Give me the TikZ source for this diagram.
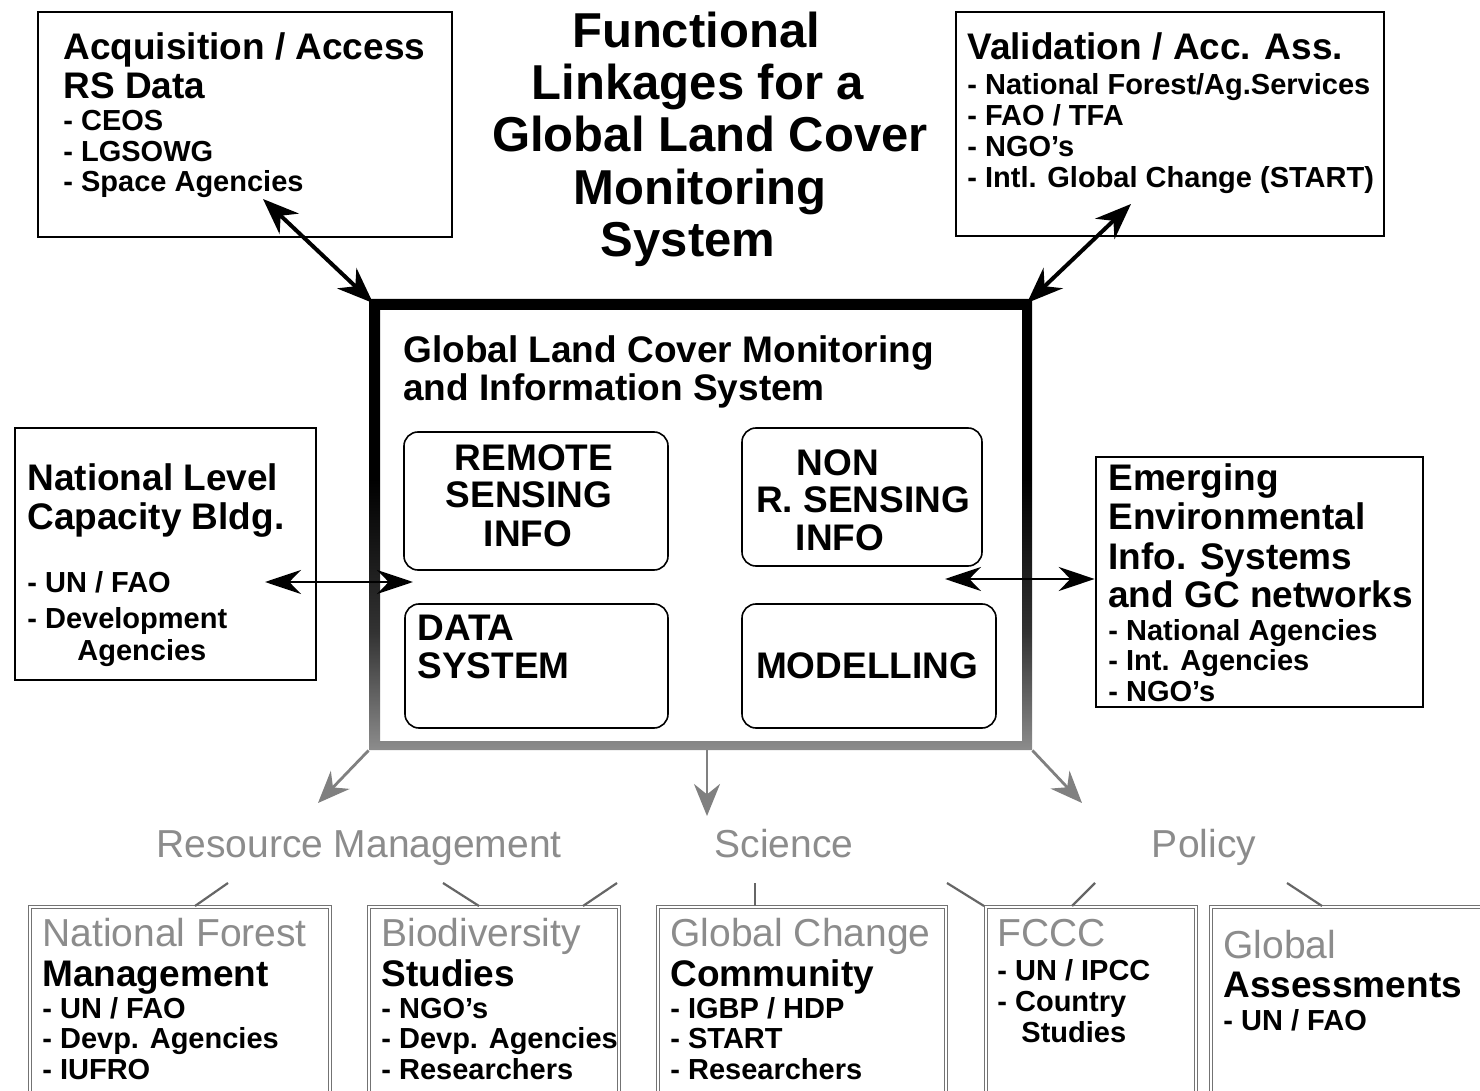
\documentclass[tikz,border=0pt]{standalone}
\usepackage{fontspec}
\setmainfont{Liberation Sans}
\usetikzlibrary{arrows.meta,fit,calc}

% thick frame: black at the top, fading to grey towards the bottom
\pgfdeclareverticalshading{ringshade}{100bp}{%
  color(0bp)=(black!45); color(25bp)=(black!45); color(38bp)=(black!80);
  color(55bp)=(black); color(100bp)=(black)}

% one node per text line, stacked at a fixed baseline distance
\newcommand\putlines[6]{%
  \foreach \lineTxt [count=\k] in {#6}
    \node[#1, anchor=base west] (#2\k) at (#3, {#4+(\k-1)*(#5)}) {\lineTxt};}

\begin{document}
\begin{tikzpicture}[x=0.5pt,y=-0.5pt,
  outerbox/.style={draw=black, line width=1.3pt, inner sep=0pt},
  inbox/.style={draw=black, line width=0.8pt, rounded corners=7pt, inner sep=0pt},
  lowbox/.style={draw=black!55, line width=0.5pt, double=white, double distance=1.4pt, inner sep=0pt},
  hdtext/.style={font=\fontsize{18.5}{18.5}\selectfont\bfseries, inner sep=0pt},
  itemtext/.style={font=\fontsize{14.5}{14.5}\selectfont\bfseries, inner sep=0pt},
  ttltext/.style={font=\fontsize{24.5}{24.5}\selectfont\bfseries, inner sep=0pt},
  cattext/.style={font=\fontsize{19.5}{19.5}\selectfont, text=black!45, inner sep=0pt},
  link/.style={line width=2pt, {Stealth[length=18pt,width=14pt]}-{Stealth[length=18pt,width=14pt]}},
  sidelink/.style={line width=1.4pt, {Stealth[length=18pt,width=12pt]}-{Stealth[length=18pt,width=12pt]}},
  garrow/.style={draw=black!50, line width=1.4pt, -{Stealth[length=16pt,width=13pt]}},
  tie/.style={draw=black!60, line width=1.1pt}
]
\useasboundingbox (0,0) rectangle (1480,1091);
\clip (0,0) rectangle (1480,1091);
\fill[white] (0,0) rectangle (1480,1091);

% ---------- title ----------
\foreach \t/\cx/\by [count=\k] in {Functional/696/48, Linkages for a/698/100,
    Global Land Cover/710/152, Monitoring/700/205, System/688/257}
  \node[ttltext, anchor=base] (ttl\k) at (\cx,\by) {\t};

% ---------- upper boxes ----------
\node[outerbox, fit={(38,12) (452,237)}] (acq) {};
\putlines{hdtext}{acqh}{63}{60}{39}{Acquisition / Access, RS Data}
\putlines{itemtext}{acqi}{63}{131}{30.5}{- CEOS, - LGSOWG, - Space Agencies}

\node[outerbox, fit={(956,12) (1384,236)}] (val) {};
\putlines{hdtext}{valh}{967}{60}{39}{Validation / Acc. Ass.}
\putlines{itemtext}{vali}{967}{95}{31}{- National Forest/Ag.Services, - FAO / TFA, - NGO's, - Intl. Global Change (START)}

% ---------- side boxes ----------
\node[outerbox, fit={(15,428) (316,680)}] (nat) {};
\putlines{hdtext}{nath}{27}{491}{38.5}{National Level, Capacity Bldg.}
\putlines{itemtext}{nati}{27}{593}{36}{- UN / FAO, - Development}
\node[itemtext, anchor=base west] (nati3) at (77,661) {Agencies};

\node[outerbox, fit={(1096,457) (1423,707)}] (emg) {};
\putlines{hdtext}{emgh}{1108}{491}{39}{Emerging, Environmental, Info. Systems, and GC networks}
\putlines{itemtext}{emgi}{1108}{640}{30.5}{- National Agencies, - Int. Agencies, - NGO's}

% ---------- central system ----------
\shade[shading=ringshade, even odd rule]
  (369,299) rectangle (1032,750) (380,310) rectangle (1022,741);
\node[fit={(369,299) (1032,750)}, inner sep=0pt] (core) {};
\putlines{hdtext}{coreh}{403}{363}{38}{Global Land Cover Monitoring, and Information System}

\node[inbox, fit={(404,432) (668,570)}] (rs) {};
\foreach \t/\cx/\by [count=\k] in {REMOTE/534/471, SENSING/529/508, INFO/528/546}
  \node[hdtext, anchor=base] (rst\k) at (\cx,\by) {\t};

\node[inbox, fit={(742,428) (982,566)}] (nrs) {};
\foreach \t/\cx/\by [count=\k] in {NON/838/476, R. SENSING/863/513, INFO/840/551}
  \node[hdtext, anchor=base] (nrst\k) at (\cx,\by) {\t};

\node[inbox, fit={(405,604) (668,728)}] (ds) {};
\putlines{hdtext}{dst}{417}{640}{38}{DATA, SYSTEM}

\node[inbox, fit={(742,604) (996,728)}] (mod) {};
\node[hdtext, anchor=base] (modt) at (867,678) {MODELLING};

% ---------- links to the central system ----------
\coordinate (acqtip) at (263,199);
\coordinate (valtip) at (1131,204);
\coordinate (coreNW) at (373,303);
\coordinate (coreNE) at (1027,303);
\draw[link] (acqtip) -- (coreNW);
\draw[link] (valtip) -- (coreNE);

\coordinate (natend) at (265,582);
\coordinate (coreW) at (413,582);
\draw[sidelink] (natend) -- (coreW);
\coordinate (coreE) at (945,579);
\draw[sidelink] (coreE) -- (emg.west |- coreE);

% ---------- outputs ----------
\coordinate (rmtip) at (318,803);
\coordinate (scitip) at (707,816);
\coordinate (poltip) at (1082,803);
\draw[garrow] (core.south west) -- (rmtip);
\draw[garrow] (scitip |- core.south) -- (scitip);
\draw[garrow] (core.south east) -- (poltip);

\node[cattext, anchor=base] (rm) at (359,857) {Resource Management};
\node[cattext, anchor=base] (sci) at (784,857) {Science};
\node[cattext, anchor=base] (pol) at (1204,857) {Policy};

% ---------- user communities ----------
\node[lowbox, fit={(30,907) (330,1110)}] (nf) {};
\node[cattext, anchor=base west] (nft) at (42,946) {National Forest};
\node[hdtext, anchor=base west] (nfh) at (42,986) {Management};
\putlines{itemtext}{nfi}{42}{1018}{30.5}{- UN / FAO, - Devp. Agencies, - IUFRO}

\node[lowbox, fit={(369,907) (619,1110)}] (bio) {};
\node[cattext, anchor=base west] (biot) at (381,946) {Biodiversity};
\node[hdtext, anchor=base west] (bioh) at (381,986) {Studies};
\putlines{itemtext}{bioi}{381}{1018}{30.5}{- NGO's, - Devp. Agencies, - Researchers}

\node[lowbox, fit={(658,907) (946,1110)}] (gc) {};
\node[cattext, anchor=base west] (gct) at (670,946) {Global Change};
\node[hdtext, anchor=base west] (gch) at (670,986) {Community};
\putlines{itemtext}{gci}{670}{1018}{30.5}{- IGBP / HDP, - START, - Researchers}

\node[lowbox, fit={(986,907) (1196,1110)}] (fccc) {};
\node[cattext, anchor=base west] (fccct) at (997,946) {FCCC};
\putlines{itemtext}{fccci}{997}{980}{31}{- UN / IPCC, - Country}
\node[itemtext, anchor=base west] (fccci3) at (1021,1042) {Studies};

\node[lowbox, fit={(1211,907) (1500,1110)}] (ga) {};
\node[cattext, anchor=base west] (gat) at (1223,958) {Global};
\node[hdtext, anchor=base west] (gah) at (1223,997) {Assessments};
\node[itemtext, anchor=base west] (gai1) at (1223,1030) {- UN / FAO};

% ---------- ties from themes to communities ----------
\coordinate (rmA) at (228,883);  \coordinate (nfA) at (195,906);
\coordinate (rmB) at (443,883);  \coordinate (bioA) at (479,906);
\coordinate (sciA) at (617,883); \coordinate (bioB) at (583,906);
\coordinate (sciB) at (755,883); \coordinate (gcA) at (755,906);
\coordinate (sciC) at (947,883); \coordinate (fcccA) at (984,906);
\coordinate (polA) at (1095,883);\coordinate (fcccB) at (1072,906);
\coordinate (polB) at (1287,883);\coordinate (gaA) at (1322,906);
\draw[tie] (rmA) -- (nfA);
\draw[tie] (rmB) -- (bioA);
\draw[tie] (sciA) -- (bioB);
\draw[tie] (sciB) -- (gcA);
\draw[tie] (sciC) -- (fcccA);
\draw[tie] (polA) -- (fcccB);
\draw[tie] (polB) -- (gaA);
\end{tikzpicture}
\end{document}
